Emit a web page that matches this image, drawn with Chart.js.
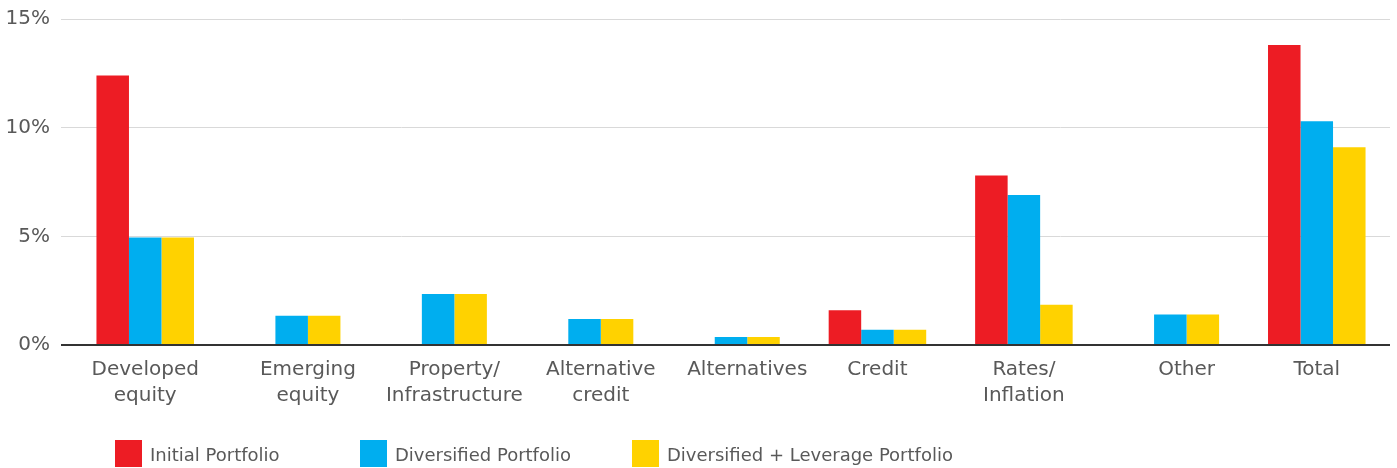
<!DOCTYPE html>
<html>
<head>
<meta charset="utf-8">
<script src="https://cdn.jsdelivr.net/npm/chart.js@4.4.1/dist/chart.umd.min.js"></script>
<style>
    body { margin: 0; background: #fff; }
    #wrap { position: relative; width: 1397px; height: 468px; }
    #legend .item { position: absolute; top: 440px; height: 27px; font: 18px "DejaVu Sans"; color: #595959; line-height: 29px; white-space: nowrap; }
    #legend .box { position: absolute; left: 0; top: 0; width: 27px; height: 27px; }
    #legend .text { position: absolute; left: 35px; top: 0; }
</style>
</head>
<body>
<div id="wrap">
    <canvas id="chart" width="1397" height="468"></canvas>
    <div id="legend"></div>
</div>
<script>
const categories = [
    ["Developed", "equity"],
    ["Emerging", "equity"],
    ["Property/", "Infrastructure"],
    ["Alternative", "credit"],
    "Alternatives",
    "Credit",
    ["Rates/", "Inflation"],
    "Other",
    "Total",
];
const seriesNames = ["Initial Portfolio", "Diversified Portfolio", "Diversified + Leverage Portfolio"];
const initialPortfolio = [12.4, 0, 0, 0, 0, 1.6, 7.8, 0, 13.8];
const diversifiedPortfolio = [4.95, 1.35, 2.35, 1.2, 0.37, 0.7, 6.9, 1.4, 10.3];
const leveragePortfolio = [4.95, 1.35, 2.35, 1.2, 0.37, 0.7, 1.85, 1.4, 9.1];
const yTicks = [0, 5, 10, 15];

const colors = ["#ED1C24", "#00AEEF", "#FFD200"];
const textColor = "#595959";
const groupPct = 0.666;

const makeSet = (i, data) => ({
    label: seriesNames[i],
    data: data,
    backgroundColor: colors[i],
    borderWidth: 0,
    categoryPercentage: groupPct,
    barPercentage: 1.0,
});

// in the original the x labels sit under the visible bars only,
// so shift them half a bar when the first series is empty.
// done before draw so the bar widths are not affected
const shiftLabels = {
    id: "shiftLabels",
    beforeDraw(chart) {
        const scale = chart.scales.x;
        if (scale._shifted) return;
        scale._shifted = true;
        const base = Object.getPrototypeOf(scale).getPixelForTick;
        scale.getPixelForTick = function (i) {
            const px = base.call(this, i);
            const barW = (this.width / categories.length) * groupPct / 3;
            return initialPortfolio[i] === 0 ? px + barW / 2 : px;
        };
        scale._labelItems = null;
    },
};

const ctx = document.getElementById("chart").getContext("2d");
new Chart(ctx, {
    type: "bar",
    data: {
        labels: categories,
        datasets: [
            makeSet(0, initialPortfolio),
            makeSet(1, diversifiedPortfolio),
            makeSet(2, leveragePortfolio),
        ],
    },
    plugins: [shiftLabels],
    options: {
        responsive: false,
        animation: false,
        layout: { autoPadding: false, padding: { top: 19, right: 7, left: 0, bottom: 0 } },
        plugins: {
            legend: { display: false },
            tooltip: { enabled: false },
        },
        scales: {
            x: {
                grid: { display: false },
                border: { display: false },
                ticks: {
                    color: textColor,
                    font: { family: "DejaVu Sans", size: 20, lineHeight: 1.3 },
                    padding: 4,
                    maxRotation: 0,
                    autoSkip: false,
                },
                afterFit: (scale) => { scale.height = 123; },
            },
            y: {
                min: 0,
                max: 15,
                afterBuildTicks: (scale) => {
                    scale.ticks = yTicks.map((v) => ({ value: v }));
                },
                grid: {
                    color: (c) => (c.tick && c.tick.value === 0 ? "#333333" : "#d9d9d9"),
                    lineWidth: (c) => (c.tick && c.tick.value === 0 ? 2 : 1),
                    tickLength: 11,
                },
                border: { display: false },
                ticks: {
                    color: textColor,
                    font: { family: "DejaVu Sans", size: 20 },
                    padding: 11,
                    callback: (v) => v + "%",
                },
                afterFit: (scale) => {
                    scale.width = 72;
                    scale.paddingTop = 0;
                    scale.paddingBottom = 0;
                },
            },
        },
    },
});

// legend drawn as html, items are not evenly spaced in the original
const legendLeft = [115, 360, 632];
const legend = document.getElementById("legend");
seriesNames.forEach((name, i) => {
    const item = document.createElement("div");
    item.className = "item";
    item.style.left = legendLeft[i] + "px";
    item.innerHTML = '<div class="box" style="background:' + colors[i] + '"></div><div class="text">' + name + "</div>";
    legend.appendChild(item);
});
</script>
</body>
</html>
